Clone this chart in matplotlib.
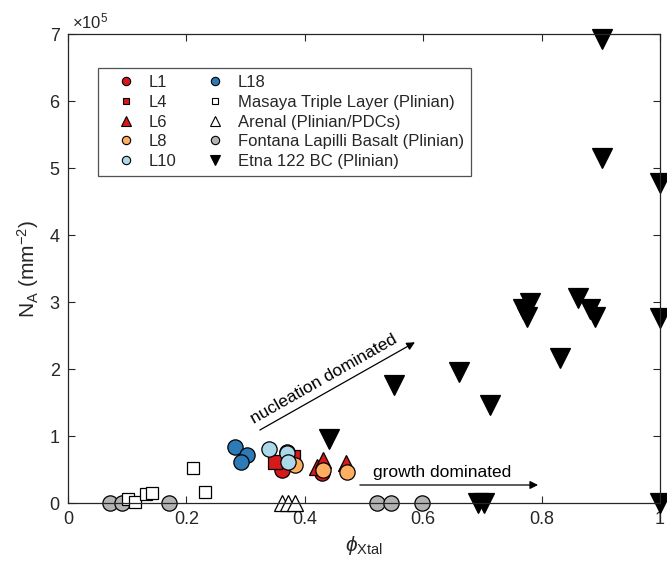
import matplotlib
matplotlib.use("Agg")
import matplotlib.pyplot as plt
from matplotlib.lines import Line2D
from matplotlib.patches import FancyArrowPatch

plt.rcParams['font.family'] = ['Liberation Sans', 'DejaVu Sans']
plt.rcParams['mathtext.fontset'] = 'custom'
plt.rcParams['mathtext.rm'] = 'Liberation Sans'
plt.rcParams['mathtext.it'] = 'Liberation Sans:italic'
plt.rcParams['mathtext.sf'] = 'Liberation Sans'

# ---- data (phi_Xtal, N_A in mm^-2) ----
L1_phi = [0.361, 0.370, 0.429]
L1_na = [49000, 76000, 45000]
L4_phi = [0.350, 0.380]
L4_na = [61000, 69000]
L6_phi = [0.420, 0.430, 0.470]
L6_na = [54000, 64000, 60000]
L8_phi = [0.383, 0.431, 0.471]
L8_na = [57000, 49000, 46000]
L10_phi = [0.340, 0.370, 0.372]
L10_na = [81000, 75000, 62000]
L18_phi = [0.282, 0.302, 0.292]
L18_na = [84000, 72000, 61000]
masaya_phi = [0.101, 0.113, 0.132, 0.142, 0.211, 0.231]
masaya_na = [6000, 2000, 13000, 15000, 52000, 16000]
arenal_phi = [0.361, 0.372, 0.383]
arenal_na = [0, 0, 0]
fontana_phi = [0.071, 0.091, 0.171, 0.522, 0.546, 0.598]
fontana_na = [0, 0, 0, 0, 0, 0]
etna_phi = [0.441, 0.551, 0.660, 0.713, 0.692, 0.702, 0.780, 0.769, 0.775,
            0.861, 0.882, 0.890, 0.831, 0.902, 0.902, 1.0, 1.0, 1.0]
etna_na = [96000, 176000, 196000, 146000, 0, 0, 298000, 290000, 278000,
           306000, 290000, 278000, 216000, 692000, 515000, 478000, 276000, 0]

xticks = [0, 0.2, 0.4, 0.6, 0.8, 1.0]
xticklabels = ['0', '0.2', '0.4', '0.6', '0.8', '1']
yticks = [0, 1e5, 2e5, 3e5, 4e5, 5e5, 6e5, 7e5]
yticklabels = ['0', '1', '2', '3', '4', '5', '6', '7']

c_red = '#d7191c'
c_orange = '#fdae61'
c_lblue = '#abd9e9'
c_blue = '#2c7bb6'
c_gray = '#b3b3b3'
axc = '#262626'

fig = plt.figure(figsize=(6.67, 5.64), dpi=100)
ax = fig.add_axes([0.102, 0.108, 0.8875, 0.8317])

ew = 0.9
kw = dict(linestyle='none', markeredgecolor='black', markeredgewidth=ew, clip_on=False)
ax.plot(fontana_phi, fontana_na, 'o', ms=11, color=c_gray, **kw)
ax.plot(masaya_phi, masaya_na, 's', ms=8.5, color='white', **kw)
ax.plot(arenal_phi, arenal_na, '^', ms=11, color='white', **kw)
ax.plot(L18_phi, L18_na, 'o', ms=11, color=c_blue, **kw)
ax.plot(L1_phi, L1_na, 'o', ms=11, color=c_red, **kw)
ax.plot(L4_phi, L4_na, 's', ms=9.5, color=c_red, **kw)
ax.plot(L6_phi, L6_na, '^', ms=11, color=c_red, **kw)
ax.plot(L8_phi, L8_na, 'o', ms=11, color=c_orange, **kw)
ax.plot(L10_phi, L10_na, 'o', ms=11, color=c_lblue, **kw)
ax.plot(etna_phi, etna_na, 'v', ms=14, color='black', **kw)

ax.set_xlim(0, 1)
ax.set_ylim(0, 7e5)
ax.set_xticks(xticks)
ax.set_xticklabels(xticklabels)
ax.set_yticks(yticks)
ax.set_yticklabels(yticklabels)
ax.tick_params(direction='in', top=True, right=True, length=5, width=0.8,
               colors=axc, labelsize=13, pad=6)
for sp in ax.spines.values():
    sp.set_color(axc)
    sp.set_linewidth(0.9)

ax.text(0.007, 1.005, r'$\times$10$^5$', transform=ax.transAxes, fontsize=12,
        color=axc, ha='left', va='bottom')
ax.set_ylabel(r'N$_\mathrm{A}$ (mm$^{-2}$)', fontsize=15, color=axc, labelpad=6)
ax.set_xlabel(r'$\phi_{\mathrm{Xtal}}$', fontsize=15, color=axc, labelpad=4)

# annotations
a1 = FancyArrowPatch((0.324, 109000), (0.586, 240000), arrowstyle='-|>',
                     mutation_scale=12, color='black', lw=0.9, shrinkA=0, shrinkB=0)
ax.add_patch(a1)
ax.text(0.432, 185000, 'nucleation dominated', rotation=29.6, fontsize=12.5,
        ha='center', va='center', rotation_mode='anchor')
a2 = FancyArrowPatch((0.493, 27000), (0.794, 27000), arrowstyle='-|>',
                     mutation_scale=12, color='black', lw=0.9, shrinkA=0, shrinkB=0)
ax.add_patch(a2)
ax.text(0.632, 45000, 'growth dominated', fontsize=12.5, ha='center', va='center')

# legend
lk = dict(linestyle='none', markeredgecolor='black', markeredgewidth=0.8)
handles = [
    Line2D([], [], marker='o', ms=6, color=c_red, **lk),
    Line2D([], [], marker='s', ms=5, color=c_red, **lk),
    Line2D([], [], marker='^', ms=6.5, color=c_red, **lk),
    Line2D([], [], marker='o', ms=6, color=c_orange, **lk),
    Line2D([], [], marker='o', ms=6, color=c_lblue, **lk),
    Line2D([], [], marker='o', ms=6, color=c_blue, **lk),
    Line2D([], [], marker='s', ms=5, color='white', **lk),
    Line2D([], [], marker='^', ms=6.5, color='white', **lk),
    Line2D([], [], marker='o', ms=6, color=c_gray, **lk),
    Line2D([], [], marker='v', ms=7.5, color='black', **lk),
]
labels = ['L1', 'L4', 'L6', 'L8', 'L10', 'L18', 'Masaya Triple Layer (Plinian)',
          'Arenal (Plinian/PDCs)', 'Fontana Lapilli Basalt (Plinian)', 'Etna 122 BC (Plinian)']
leg = ax.legend(handles, labels, ncol=2, loc='upper left', bbox_to_anchor=(0.051, 0.928),
                borderaxespad=0, fontsize=12, frameon=True, fancybox=False,
                edgecolor=axc, handlelength=2.4, handletextpad=0.15, columnspacing=1.15,
                labelspacing=0.28, borderpad=0.45)
leg.get_frame().set_linewidth(0.9)
for t in leg.get_texts():
    t.set_color(axc)

fig.savefig('out.png', dpi=100)
